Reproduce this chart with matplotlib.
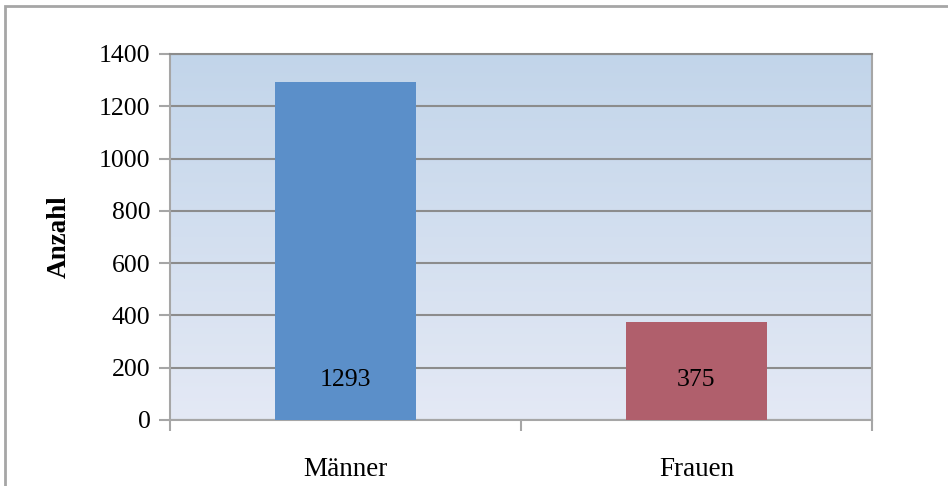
import numpy as np
import matplotlib.pyplot as plt
from matplotlib.patches import Rectangle
from matplotlib.colors import LinearSegmentedColormap

# data
categories = ['Männer', 'Frauen']
counts = [1293, 375]
bar_colors = ['#5B8FC9', '#B05F6C']
yticks = [0, 200, 400, 600, 800, 1000, 1200, 1400]

plt.rcParams['font.family'] = ['Liberation Serif', 'DejaVu Serif']

fig = plt.figure(figsize=(9.48, 4.86), dpi=100)

# outer frame (cut off at right and bottom like the source)
fig.patches.append(Rectangle((5/948, -0.05), 1.0, 1 - 6/486 + 0.05,
                             transform=fig.transFigure, fill=False,
                             edgecolor='#A6A6A6', linewidth=2.0))

ax = fig.add_axes([170/948, 1 - 420/486, 702/948, 366/486])

# gradient background
grad = LinearSegmentedColormap.from_list('bg', ['#E4E9F5', '#C2D5EA'])
ax.imshow(np.linspace(0, 1, 256).reshape(-1, 1), cmap=grad, origin='lower',
          extent=[0, 1, 0, 1], transform=ax.transAxes, aspect='auto', zorder=0)

x = np.arange(len(categories))
ax.bar(x, counts, width=0.4, color=bar_colors, zorder=3)

for xi, v in zip(x, counts):
    ax.annotate(str(v), xy=(xi, 0), xytext=(0, 40), textcoords='offset pixels',
                ha='center', va='center', fontsize=18.5, zorder=4)

ax.set_xlim(-0.5, 1.5)
ax.set_ylim(0, 1400)
ax.set_yticks(yticks)
ax.yaxis.grid(True, color='#8C8C8C', linewidth=1.5, zorder=1)
ax.set_axisbelow(True)

ax.set_xticks([-0.5, 0.5, 1.5], minor=False)
ax.set_xticklabels([])
ax.set_xticks(x, minor=True)
ax.set_xticklabels(categories, minor=True)
ax.tick_params(axis='x', which='major', length=8, width=1.5, color='#A6A6A6')
ax.tick_params(axis='x', which='minor', length=0, pad=27, labelsize=19.5)
ax.tick_params(axis='y', length=8, width=1.5, color='#A6A6A6', labelsize=18.5, pad=6)

for side in ['left', 'right', 'bottom', 'top']:
    ax.spines[side].set_color('#A6A6A6')
    ax.spines[side].set_linewidth(1.5)
ax.spines['top'].set_color('#8C8C8C')

ax.set_ylabel('Anzahl', fontsize=19.5, fontweight='bold', labelpad=20)

fig.savefig('out.png', dpi=100)
